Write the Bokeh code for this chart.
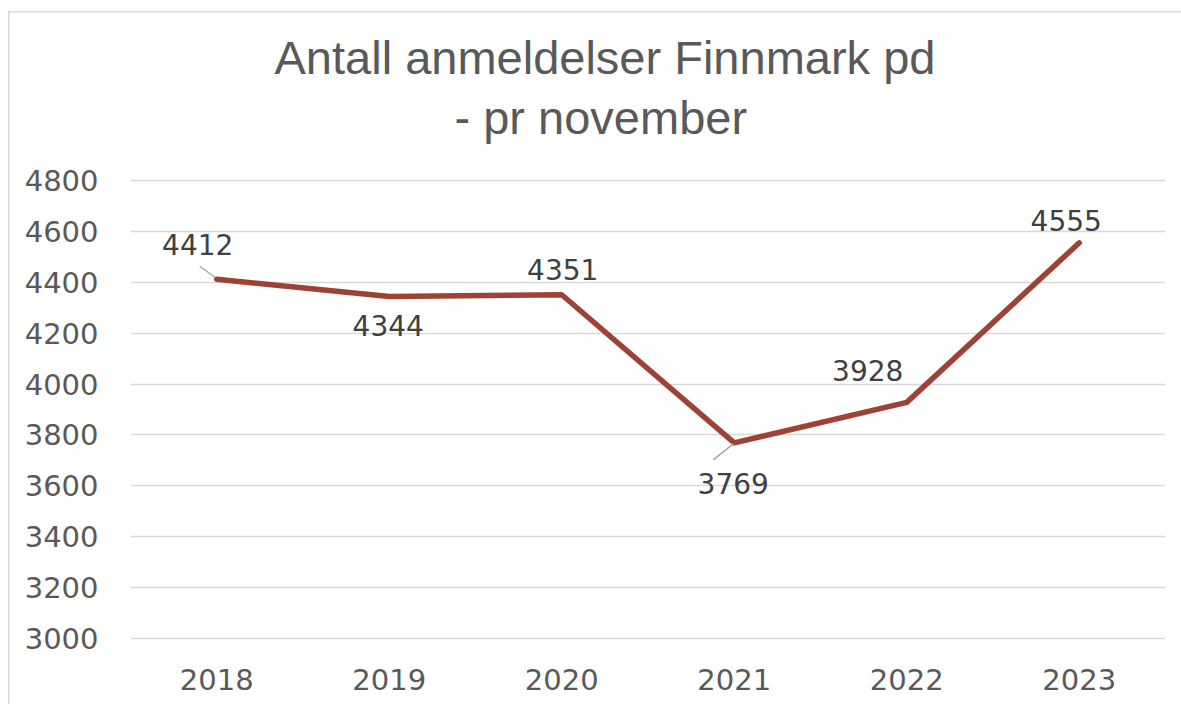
from bokeh.plotting import figure
from bokeh.models import Title, FactorRange, Range1d, ColumnDataSource, SingleIntervalTicker
from bokeh.core.properties import value
from bokeh.embed import file_html
from bokeh.resources import INLINE

# ---- data ----
years = ["2018", "2019", "2020", "2021", "2022", "2023"]
counts = [4412, 4344, 4351, 3769, 3928, 4555]
title_line1 = "Antall anmeldelser Finnmark pd"
title_line2 = "- pr november"

# label placement (screen px relative to point, y up)
label_dx = [-19, -1, 1, -1, -39, -13]
label_dy = [35, -29, 25, -41, 32, 22]

W, H = 1181, 704
FL, FR, FT, FB = 130, 16, 179, 65
frame_w = W - FL - FR
frame_h = H - FT - FB
ymin, ymax = 2996, 4804
px_per_cat = frame_w / len(years)
px_per_unit = frame_h / (ymax - ymin)

p = figure(x_range=FactorRange(*years), y_range=Range1d(ymin, ymax),
           width=W, height=H, output_backend="svg", toolbar_location=None,
           min_border_left=FL, min_border_right=FR, min_border_top=FT, min_border_bottom=FB,
           background_fill_color="white", border_fill_color=None)
p.outline_line_color = None
p.title = None
p.styles = {
    "background": "linear-gradient(#d9d9d9, #d9d9d9) 8px 11px / 1.5px 100% no-repeat, "
                  "linear-gradient(#d9d9d9, #d9d9d9) 8px 11px / 100% 1.5px no-repeat, white"
}

t2 = Title(text=title_line2, align="left", text_font_size="47px", text_font="Liberation Sans",
           text_font_style="normal", text_color="#595959", standoff=71, offset=324)
t1 = Title(text=title_line1, align="left", text_font_size="47px", text_font="Liberation Sans",
           text_font_style="normal", text_color="#595959", standoff=-60, offset=144)
p.add_layout(t2, "above")
p.add_layout(t1, "above")

# grid
p.xgrid.grid_line_color = None
p.ygrid.grid_line_color = "#d9d9d9"
p.ygrid.grid_line_width = 1.3

# axes
for ax in (p.xaxis[0], p.yaxis[0]):
    ax.axis_line_color = None
    ax.major_tick_line_color = None
    ax.minor_tick_line_color = None
    ax.major_label_text_font = "DejaVu Sans"
    ax.major_label_text_font_size = "29px"
    ax.major_label_text_color = "#595959"
p.yaxis[0].ticker = SingleIntervalTicker(interval=200)
p.yaxis[0].major_label_standoff = 26
p.xaxis[0].major_label_standoff = 23

src = ColumnDataSource(dict(year=years, count=counts,
                            xo=[dx for dx in label_dx], yo=[-dy for dy in label_dy],
                            txt=[str(c) for c in counts]))

p.line("year", "count", source=src, line_color="#9E4236", line_width=5.5, line_join="round", line_cap="round")

p.text("year", "count", text="txt", source=src, x_offset="xo", y_offset="yo",
       text_align="center", text_baseline="middle", text_font=value("DejaVu Sans"),
       text_font_size="28px", text_color="#404040")

# leader lines for 2018 and 2021 labels
lead_years = ["2018", "2021"]
lead_start = [(-2, 2), (-1, -1)]
lead_end = [(-17, 13), (-21, -17)]
x0, y0, x1, y1 = [], [], [], []
for yr, s, e in zip(lead_years, lead_start, lead_end):
    i = years.index(yr)
    xc = i + 0.5
    yc = counts[i]
    x0.append(xc + s[0] / px_per_cat); y0.append(yc + s[1] / px_per_unit)
    x1.append(xc + e[0] / px_per_cat); y1.append(yc + e[1] / px_per_unit)
p.segment(x0=x0, y0=y0, x1=x1, y1=y1, line_color="#a6a6a6", line_width=1.5)

open("out.html", "w").write(file_html(p, INLINE))
